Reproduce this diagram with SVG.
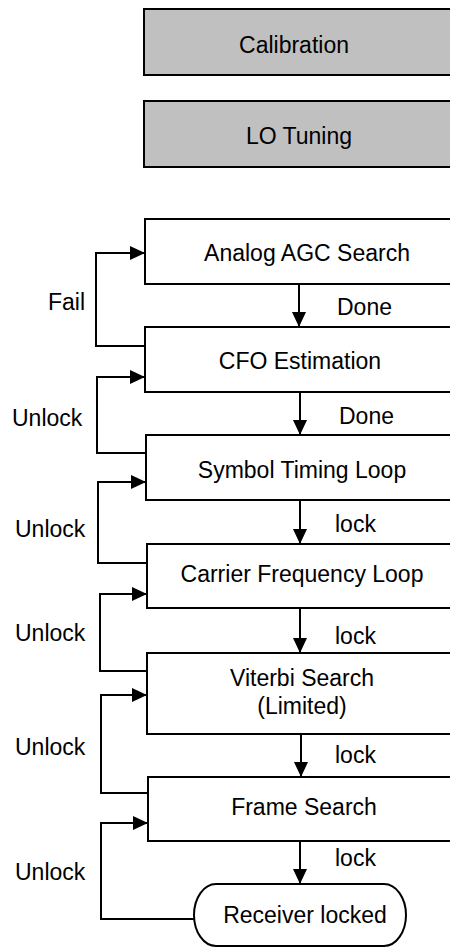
<svg xmlns="http://www.w3.org/2000/svg" width="450" height="947" viewBox="0 0 450 947">
<style>
  .box { fill: #ffffff; stroke: #000000; stroke-width: 2; }
  .grey { fill: #c0c0c0; stroke: #000000; stroke-width: 2; }
  .t { font-family: "Liberation Sans", Arial, sans-serif; font-size: 23px; fill: #000000; }
  .c { text-anchor: middle; }
  .ln { fill: none; stroke: #000000; stroke-width: 2; }
</style>
<defs>
  <marker id="ah" markerUnits="userSpaceOnUse" markerWidth="16" markerHeight="14" refX="15" refY="7" orient="auto">
    <path d="M0,0 L15,7 L0,14 z" fill="#000000"/>
  </marker>
</defs>
<rect width="450" height="947" fill="#ffffff"/>

<g id="calibration">
  <rect class="grey" x="144" y="9" width="320" height="66"/>
  <text class="t c" x="294" y="53">Calibration</text>
</g>
<g id="lo-tuning">
  <rect class="grey" x="144" y="101" width="320" height="66"/>
  <text class="t c" x="299" y="144">LO Tuning</text>
</g>
<g id="analog-agc">
  <rect class="box" x="145" y="219" width="330" height="65"/>
  <text class="t c" x="307" y="261">Analog AGC Search</text>
</g>
<g id="cfo">
  <rect class="box" x="145" y="327" width="330" height="65"/>
  <text class="t c" x="300" y="369">CFO Estimation</text>
</g>
<g id="symbol-timing">
  <rect class="box" x="146" y="435" width="330" height="65"/>
  <text class="t c" x="302" y="478">Symbol Timing Loop</text>
</g>
<g id="carrier-freq">
  <rect class="box" x="147" y="544" width="330" height="64"/>
  <text class="t c" x="302" y="582">Carrier Frequency Loop</text>
</g>
<g id="viterbi">
  <rect class="box" x="147" y="653" width="330" height="81"/>
  <text class="t c" x="302" y="686">Viterbi Search</text>
  <text class="t c" x="302" y="714">(Limited)</text>
</g>
<g id="frame-search">
  <rect class="box" x="148" y="777" width="330" height="64"/>
  <text class="t c" x="304" y="815">Frame Search</text>
</g>
<g id="receiver-locked">
  <rect class="box" x="194" y="884" width="212" height="62" rx="22" ry="31"/>
  <text class="t c" x="305" y="923">Receiver locked</text>
</g>

<g id="connectors">
  <line class="ln" x1="299" y1="284" x2="299" y2="327" marker-end="url(#ah)"/>
  <line class="ln" x1="300" y1="392" x2="300" y2="435" marker-end="url(#ah)"/>
  <line class="ln" x1="300" y1="500" x2="300" y2="544" marker-end="url(#ah)"/>
  <line class="ln" x1="300" y1="608" x2="300" y2="653" marker-end="url(#ah)"/>
  <line class="ln" x1="301" y1="734" x2="301" y2="777" marker-end="url(#ah)"/>
  <line class="ln" x1="300" y1="841" x2="300" y2="884" marker-end="url(#ah)"/>

  <polyline class="ln" points="145,346 96,346 96,253 145,253" marker-end="url(#ah)"/>
  <polyline class="ln" points="146,453 97,453 97,377 145,377" marker-end="url(#ah)"/>
  <polyline class="ln" points="147,563 98,563 98,482 146,482" marker-end="url(#ah)"/>
  <polyline class="ln" points="147,671 100,671 100,594 147,594" marker-end="url(#ah)"/>
  <polyline class="ln" points="148,793 101,793 101,695 147,695" marker-end="url(#ah)"/>
  <polyline class="ln" points="194,919 101,919 101,823 148,823" marker-end="url(#ah)"/>

  <text class="t" x="337" y="315">Done</text>
  <text class="t" x="339" y="424">Done</text>
  <text class="t" x="335" y="532">lock</text>
  <text class="t" x="335" y="644">lock</text>
  <text class="t" x="335" y="763">lock</text>
  <text class="t" x="335" y="866">lock</text>

  <text class="t" x="48" y="310">Fail</text>
  <text class="t" x="12" y="426">Unlock</text>
  <text class="t" x="15" y="537">Unlock</text>
  <text class="t" x="15" y="641">Unlock</text>
  <text class="t" x="15" y="755">Unlock</text>
  <text class="t" x="15" y="880">Unlock</text>
</g>
</svg>
